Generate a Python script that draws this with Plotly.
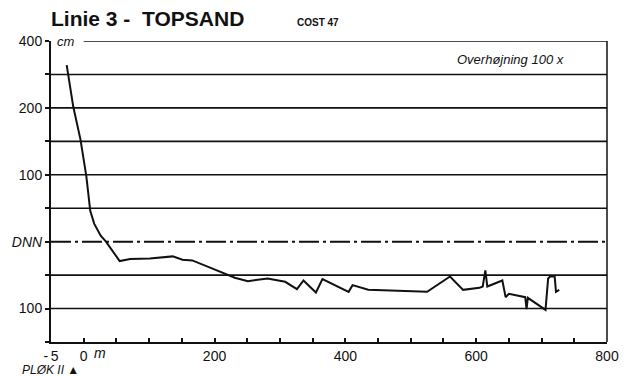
import plotly.graph_objects as go

# Beach profile, line 3 (Topsand): distance from the survey peg (m) and level relative to DNN (cm)
distance_m = [-26, -16, -5, 4, 10, 16, 26, 34, 55, 71, 101, 136, 151, 166, 196, 231,
              251, 281, 308, 326, 336, 355, 365, 405, 411, 435, 525, 560, 580, 605,
              610, 614, 617, 640, 645, 650, 675, 677, 679, 706, 710, 713, 720, 722, 727]
level_cm = [264, 202, 153, 98, 46, 27, 9, 0, -29, -26, -25, -22, -27, -28, -40, -54,
            -59, -55, -60, -71, -58, -76, -56, -75, -65, -72, -75, -52, -72, -69,
            -67, -43, -67, -58, -83, -78, -83, -101, -84, -102, -55, -52, -52, -75, -72]

y_ticks = [300, 250, 200, 150, 100, 50, 0, -50, -100, -150]
y_labels = ["400", "", "200", "", "100", "", "<i>DNN</i>", "", "100", ""]
x_ticks = [-50, 0, 200, 400, 600, 800]
x_labels = ["-\u20095", "0", "200", "400", "600", "800"]
grid_levels = [250, 200, 150, 100, 50, -50, -100]

INK = "#111111"
FONT = "Liberation Sans, Arial, DejaVu Sans, sans-serif"

fig = go.Figure()
fig.add_trace(go.Scatter(x=distance_m, y=level_cm, mode="lines",
                         line=dict(color=INK, width=2), hoverinfo="skip",
                         showlegend=False))

shapes = []
for lv in grid_levels:
    shapes.append(dict(type="line", xref="paper", yref="y", x0=0, x1=1, y0=lv, y1=lv,
                       line=dict(color=INK, width=1.6), layer="below"))
# top rule starts after the unit label
shapes.append(dict(type="line", xref="x", yref="y", x0=0, x1=800, y0=300, y1=300,
                   line=dict(color=INK, width=1.6), layer="below"))
# datum line DNN
shapes.append(dict(type="line", xref="paper", yref="y", x0=0, x1=1, y0=0, y1=0,
                   line=dict(color=INK, width=2, dash="20px,4px,3px,4px"), layer="below"))
# right frame edge
shapes.append(dict(type="line", xref="paper", yref="paper", x0=1, x1=1, y0=0, y1=1,
                   line=dict(color=INK, width=1.5)))

annotations = [
    dict(text="<b>Linie 3 -  TOPSAND</b>", x=-0.004, y=1.075, xref="paper", yref="paper",
         xanchor="left", yanchor="middle", showarrow=False,
         font=dict(family=FONT, size=21, color=INK)),
    dict(text="<b>COST 47</b>", x=0.438, y=1.062, xref="paper", yref="paper",
         xanchor="left", yanchor="middle", showarrow=False,
         font=dict(family=FONT, size=10, color=INK)),
    dict(text="<i>cm</i>", x=0.007, y=0.997, xref="paper", yref="paper",
         xanchor="left", yanchor="middle", showarrow=False,
         font=dict(family=FONT, size=13, color=INK)),
    dict(text="<i>Overhøjning 100 x</i>", x=0.927, y=0.937, xref="paper", yref="paper",
         xanchor="right", yanchor="middle", showarrow=False,
         font=dict(family=FONT, size=13, color=INK)),
    dict(text="<i>m</i>", x=0, y=0, xref="x", yref="paper", xshift=8, yshift=-11,
         xanchor="left", yanchor="middle", showarrow=False,
         font=dict(family=FONT, size=14, color=INK)),
    dict(text="<i>PLØK II</i> ▲", x=-0.056, y=-0.092, xref="paper", yref="paper",
         xanchor="left", yanchor="middle", showarrow=False,
         font=dict(family=FONT, size=12, color=INK)),
]

fig.update_layout(
    width=631, height=376,
    margin=dict(l=49, r=14, t=41, b=32),
    paper_bgcolor="white", plot_bgcolor="white",
    font=dict(family=FONT, size=14, color=INK),
    shapes=shapes, annotations=annotations,
    xaxis=dict(range=[-50, 800], tickmode="array", tickvals=x_ticks, ticktext=x_labels,
               showgrid=False, zeroline=False, showline=True, linecolor=INK, linewidth=2,
               ticks="inside", ticklen=4, tickcolor=INK, tickwidth=1.5,
               minor=dict(dtick=50, tick0=0, ticks="inside", ticklen=4,
                          tickcolor=INK, tickwidth=1.5, showgrid=False),
               tickfont=dict(family=FONT, size=14, color=INK), fixedrange=True),
    yaxis=dict(range=[-150, 300], tickmode="array", tickvals=y_ticks, ticktext=y_labels,
               showgrid=False, zeroline=False, showline=True, linecolor=INK, linewidth=2,
               ticks="outside", ticklen=4, tickcolor=INK, tickwidth=1.5,
               tickfont=dict(family=FONT, size=14, color=INK), fixedrange=True),
)

fig.write_html("out.html")
